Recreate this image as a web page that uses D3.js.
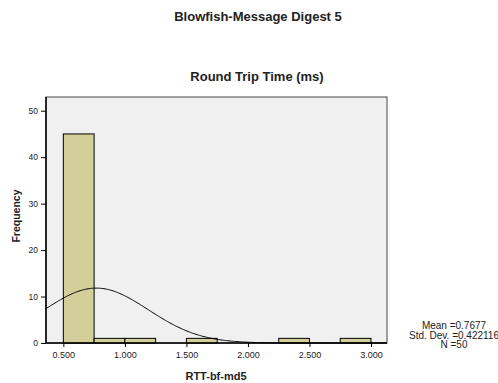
<!DOCTYPE html>
<html>
<head>
<meta charset="utf-8">
<script src="https://cdn.jsdelivr.net/npm/d3@7"></script>
<style>
  body { margin: 0; background: #fff; }
  svg text { font-family: "Liberation Sans", Arial, sans-serif; fill: #222; }
</style>
</head>
<body>
<div id="chart"></div>
<script>
// histogram bins (lower edge, upper edge) and counts
var binStart = [0.50, 0.75, 1.00, 1.50, 2.25, 2.75];
var binEnd   = [0.75, 1.00, 1.25, 1.75, 2.50, 3.00];
var counts   = [45, 1, 1, 1, 1, 1];
var xTicks = [0.5, 1.0, 1.5, 2.0, 2.5, 3.0];
var yTicks = [0, 10, 20, 30, 40, 50];
var mean = 0.7677, stdDev = 0.422116, nObs = 50, binWidth = 0.25;

var W = 498, H = 383;
var m = { top: 97, right: 111, bottom: 40, left: 46 };
var w = W - m.left - m.right, h = H - m.top - m.bottom;

var svg = d3.select("#chart").append("svg").attr("width", W).attr("height", H);

svg.append("text").attr("x", 258).attr("y", 20.5).attr("text-anchor", "middle")
  .style("font-size", "13px").style("font-weight", "bold").text("Blowfish-Message Digest 5");
svg.append("text").attr("x", 257).attr("y", 81).attr("text-anchor", "middle")
  .style("font-size", "13px").style("font-weight", "bold").text("Round Trip Time (ms)");

var g = svg.append("g").attr("transform", "translate(" + m.left + "," + m.top + ")");

var x = d3.scaleLinear().domain([0.359, 3.13]).range([0, w]);
var y = d3.scaleLinear().domain([0, 52.95]).range([h, 0]);

g.append("rect").attr("width", w).attr("height", h)
  .attr("fill", "#f0f0f0").attr("stroke", "#444").attr("stroke-width", 1);

var bins = counts.map(function(c, i) { return { x0: binStart[i], x1: binEnd[i], n: c }; });
g.selectAll(".bar").data(bins).enter().append("rect")
  .attr("class", "bar")
  .attr("x", function(d) { return x(d.x0); })
  .attr("width", function(d) { return x(d.x1) - x(d.x0); })
  .attr("y", function(d) { return y(d.n); })
  .attr("height", function(d) { return h - y(d.n); })
  .attr("fill", "#d3cf9b").attr("stroke", "#000").attr("stroke-width", 1);

// normal curve from the reported mean / sd
var pts = d3.range(0, 301).map(function(i) { return 0.359 + i * (3.13 - 0.359) / 300; });
var scale = nObs * binWidth / (stdDev * Math.sqrt(2 * Math.PI));
var line = d3.line()
  .x(function(v) { return x(v); })
  .y(function(v) { var z = (v - mean) / stdDev; return y(scale * Math.exp(-0.5 * z * z)); });
g.append("path").datum(pts).attr("d", line).attr("fill", "none")
  .attr("stroke", "#000").attr("stroke-width", 1);

var xa = g.append("g").attr("transform", "translate(0," + h + ")")
  .call(d3.axisBottom(x).tickValues(xTicks).tickSize(4).tickPadding(5).tickFormat(d3.format(".3f")));
var ya = g.append("g")
  .call(d3.axisLeft(y).tickValues(yTicks).tickSize(5).tickPadding(3));
[xa, ya].forEach(function(a) {
  a.select(".domain").attr("stroke", "#000").attr("stroke-width", 1.5);
  a.selectAll(".tick line").attr("stroke", "#000");
  a.selectAll("text").style("font-size", "9px").attr("fill", "#333");
});
ya.selectAll("text").style("font-size", "8.5px");
xa.select(".domain").attr("d", "M0,0H" + w);
ya.select(".domain").attr("d", "M0,0V" + h);

svg.append("text").attr("transform", "translate(20,216) rotate(-90)")
  .attr("text-anchor", "middle").style("font-size", "10.5px").style("font-weight", "bold").text("Frequency");
svg.append("text").attr("x", 216).attr("y", 380).attr("text-anchor", "middle")
  .style("font-size", "11px").style("font-weight", "bold").text("RTT-bf-md5");

var stats = ["Mean =" + mean, "Std. Dev. =" + stdDev, "N =" + nObs];
svg.selectAll(".stat").data(stats).enter().append("text")
  .attr("x", 454).attr("y", function(d, i) { return 329 + i * 9.5; })
  .attr("text-anchor", "middle").style("font-size", "10px").text(function(d) { return d; });
</script>
</body>
</html>
